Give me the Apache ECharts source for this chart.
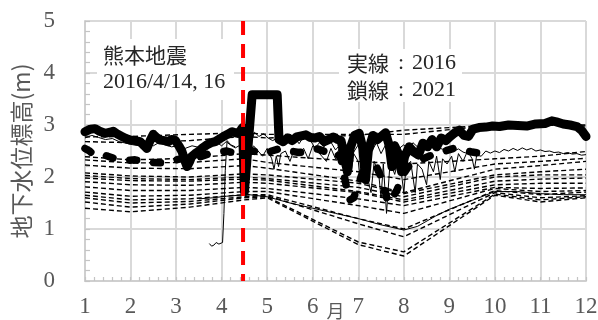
<!DOCTYPE html>
<html><head><meta charset="utf-8">
<script src="https://cdn.jsdelivr.net/npm/echarts/dist/echarts.min.js"></script>
<style>html,body{margin:0;padding:0;background:#fff}#chart{width:598px;height:320px}</style>
</head><body><div id="chart"></div>
<script>
// Groundwater level (m) by month; solid = 2016 daily records, dashed = 2021 monthly records
const monthTicks = [1, 2, 3, 4, 5, 6, 7, 8, 9, 10, 11, 12];
const quakeMonth = 4.47; // 2016/4/14 and 4/16

// main observation well, 2016 (thick solid)
const mainWell2016 = [[1.00,2.87],[1.12,2.92],[1.22,2.93],[1.32,2.88],[1.44,2.84],[1.55,2.86],[1.62,2.88],[1.72,2.82],[1.81,2.78],[1.90,2.74],[1.99,2.71],[2.10,2.70],[2.21,2.68],[2.30,2.60],[2.36,2.55],[2.43,2.70],[2.50,2.82],[2.57,2.76],[2.65,2.71],[2.75,2.70],[2.83,2.68],[2.90,2.72],[2.98,2.71],[3.06,2.60],[3.13,2.49],[3.20,2.30],[3.24,2.20],[3.30,2.30],[3.34,2.39],[3.42,2.45],[3.49,2.49],[3.58,2.56],[3.68,2.62],[3.77,2.66],[3.86,2.68],[3.95,2.73],[4.04,2.78],[4.13,2.82],[4.23,2.87],[4.30,2.85],[4.36,2.84],[4.42,2.90],[4.46,2.95],[4.50,1.72],[4.67,3.58],[5.22,3.58],[5.26,2.72],[5.35,2.68],[5.45,2.75],[5.55,2.70],[5.65,2.77],[5.75,2.79],[5.85,2.81],[5.95,2.76],[6.05,2.75],[6.15,2.78],[6.25,2.68],[6.35,2.72],[6.45,2.77],[6.55,2.72],[6.62,2.70],[6.70,2.40],[6.76,2.10],[6.82,2.55],[6.92,2.80],[7.02,2.84],[7.10,2.55],[7.16,1.95],[7.22,2.50],[7.32,2.80],[7.42,2.72],[7.50,2.78],[7.60,2.85],[7.68,2.60],[7.74,2.20],[7.80,2.60],[7.88,2.45],[7.95,2.10],[8.02,2.40],[8.12,2.58],[8.22,2.48],[8.32,2.42],[8.42,2.65],[8.52,2.58],[8.62,2.72],[8.72,2.58],[8.82,2.75],[8.92,2.70],[9.02,2.78],[9.12,2.85],[9.22,2.90],[9.32,2.80],[9.42,2.78],[9.52,2.92],[9.65,2.95],[9.80,2.96],[9.95,2.98],[10.10,2.97],[10.30,3.00],[10.50,2.99],[10.70,2.98],[10.90,3.02],[11.10,3.03],[11.25,3.08],[11.35,3.06],[11.50,3.02],[11.65,3.00],[11.80,2.97],[11.90,2.90],[12.00,2.78]];

// main observation well, 2021 (thick dashed)
const mainWell2021 = [[1.00,2.55],[1.10,2.50],[1.20,2.42],[1.35,2.44],[1.50,2.40],[1.70,2.34],[1.90,2.32],[2.10,2.33],[2.30,2.30],[2.50,2.28],[2.70,2.27],[2.90,2.31],[3.10,2.35],[3.30,2.40],[3.50,2.38],[3.70,2.44],[3.90,2.47],[4.10,2.50],[4.30,2.46],[4.45,2.48],[4.70,2.50],[4.90,2.44],[5.10,2.50],[5.30,2.55],[5.50,2.50],[5.70,2.47],[5.90,2.50],[6.10,2.54],[6.30,2.48],[6.50,2.50],[6.62,2.35],[6.72,1.90],[6.80,1.55],[6.90,1.60],[7.00,1.85],[7.10,2.10],[7.25,2.15],[7.40,2.20],[7.55,1.90],[7.65,1.50],[7.75,1.60],[7.85,1.75],[7.95,2.00],[8.10,2.20],[8.30,2.30],[8.50,2.38],[8.70,2.45],[8.90,2.50],[9.10,2.55],[9.30,2.52],[9.50,2.48],[9.70,2.45],[9.90,2.40]];

// shallow well next to the main one, 2016 (thin solid)
const upperWell2016 = [[1.00,2.75],[1.15,2.80],[1.30,2.76],[1.45,2.72],[1.60,2.74],[1.75,2.68],[1.90,2.65],[2.05,2.62],[2.20,2.60],[2.35,2.64],[2.50,2.60],[2.62,2.66],[2.75,2.62],[2.90,2.58],[3.05,2.60],[3.20,2.55],[3.35,2.60],[3.50,2.57],[3.62,2.63],[3.75,2.60],[3.90,2.66],[4.00,2.60],[4.10,2.68],[4.20,2.61],[4.30,2.56],[4.42,2.62],[4.52,2.45],[4.62,2.60],[4.72,2.86],[4.82,2.78],[4.92,2.83],[5.02,2.75],[5.12,2.70],[5.25,2.76],[5.40,2.62],[5.50,2.82],[5.60,2.77],[5.70,2.64],[5.82,2.80],[5.95,2.70],[6.05,2.56],[6.15,2.66],[6.25,2.58],[6.38,2.70],[6.50,2.52],[6.60,2.62],[6.70,2.40],[6.80,2.58],[6.90,2.48],[7.00,2.62],[7.10,2.40],[7.20,2.58],[7.30,2.50],[7.40,2.66],[7.50,2.45],[7.60,2.62],[7.70,2.52],[7.80,2.68],[7.90,2.55],[8.00,2.62],[8.10,2.50],[8.20,2.66],[8.30,2.58],[8.40,2.70],[8.50,2.60],[8.60,2.68],[8.70,2.58],[8.80,2.55],[8.90,2.52],[9.00,2.55],[9.10,2.50],[9.20,2.54],[9.30,2.48],[9.40,2.45],[9.50,2.50]];

// well with large summer fluctuations, 2016 (thin solid)
const spikyWell2016 = [[4.50,2.55],[4.60,2.45],[4.70,2.60],[4.80,2.50],[4.90,2.40],[5.00,2.55],[5.10,2.35],[5.15,2.15],[5.20,2.40],[5.25,2.20],[5.30,2.45],[5.40,2.50],[5.50,2.30],[5.60,2.55],[5.70,2.45],[5.80,2.55],[5.90,2.35],[6.00,2.60],[6.10,2.50],[6.20,2.40],[6.30,2.30],[6.40,2.55],[6.50,2.35],[6.60,2.60],[6.65,2.20],[6.70,2.50],[6.80,2.40],[6.85,2.10],[6.90,2.45],[7.00,2.30],[7.05,1.90],[7.10,2.35],[7.20,2.00],[7.28,1.70],[7.35,2.30],[7.45,2.05],[7.50,1.60],[7.55,2.25],[7.62,1.30],[7.70,2.30],[7.80,2.05],[7.90,2.40],[8.00,1.70],[8.05,2.20],[8.15,2.30],[8.25,1.70],[8.30,2.25],[8.40,2.15],[8.50,1.85],[8.55,2.30],[8.65,2.10],[8.72,2.40],[8.80,1.95],[8.85,2.35],[8.95,2.25],[9.05,2.40],[9.12,2.10],[9.20,2.45],[9.30,2.30],[9.40,2.50],[9.50,2.35],[9.55,2.15],[9.60,2.42],[9.70,2.40],[9.80,2.50],[9.90,2.46],[10.00,2.50],[10.10,2.47],[10.20,2.53],[10.30,2.50],[10.40,2.55],[10.50,2.51],[10.60,2.56],[10.70,2.52],[10.80,2.55],[10.90,2.50],[11.00,2.52],[11.10,2.49],[11.20,2.50],[11.30,2.47],[11.40,2.48],[11.50,2.45],[11.60,2.47],[11.70,2.44],[11.80,2.45],[11.90,2.42],[12.00,2.43]];

// well recovering after a dry spell, 2016 (thin solid)
const risingWell2016 = [[3.73,0.72],[3.78,0.67],[3.83,0.69],[3.88,0.74],[3.94,0.71],[3.98,0.70],[4.02,0.74],[4.05,1.30],[4.08,2.13],[4.12,2.70],[4.20,2.62],[4.30,2.58]];

// deep well, 2016 (thin solid)
const deepWell2016 = [[3.50,1.58],[3.80,1.60],[4.10,1.63],[4.40,1.65],[4.60,1.66],[5.00,1.62],[5.50,1.50],[6.00,1.40],[6.50,1.30],[7.00,1.20],[7.50,1.08],[8.00,0.98],[8.30,1.05],[8.70,1.25],[9.00,1.38],[9.50,1.55],[10.00,1.72],[10.50,1.72],[11.00,1.68],[11.50,1.66],[12.00,1.66]];

// 2021 monthly readings of the other wells (thin dashed)
const months2021 = [1, 2, 3.3, 4.5, 5, 7, 8, 10, 11, 12];
const levels2021 = [
  [2.77, 2.78, 2.82, 2.85, 2.82, 2.82, 2.82, 3.00, 3.02, 3.00],
  [2.68, 2.66, 2.70, 2.78, 2.75, 2.80, 2.90, 3.00, 3.00, 2.98],
  [2.39, 2.33, 2.36, 2.45, 2.42, 2.30, 2.25, 2.35, 2.40, 2.49],
  [2.33, 2.27, 2.28, 2.35, 2.28, 2.10, 1.95, 2.25, 2.30, 2.36],
  [2.23, 2.17, 2.16, 2.22, 2.17, 1.92, 1.70, 2.15, 2.22, 2.30],
  [2.08, 2.02, 2.00, 2.06, 2.04, 1.88, 1.68, 2.04, 2.10, 2.15],
  [2.03, 1.97, 1.95, 2.00, 1.97, 1.80, 1.62, 2.00, 2.04, 2.04],
  [1.98, 1.93, 1.92, 1.96, 1.94, 1.72, 1.56, 1.92, 1.96, 1.98],
  [1.91, 1.85, 1.84, 1.90, 1.88, 1.70, 1.52, 1.85, 1.88, 1.88],
  [1.81, 1.74, 1.74, 1.80, 1.78, 1.58, 1.45, 1.80, 1.78, 1.79],
  [1.71, 1.63, 1.65, 1.72, 1.72, 1.45, 1.30, 1.78, 1.72, 1.74],
  [1.65, 1.56, 1.58, 1.66, 1.66, 1.20, 1.00, 1.74, 1.66, 1.71],
  [1.60, 1.50, 1.53, 1.62, 1.64, 1.10, 0.85, 1.70, 1.60, 1.64],
  [1.52, 1.42, 1.48, 1.60, 1.62, 0.75, 0.56, 1.67, 1.56, 1.62],
  [1.40, 1.33, 1.42, 1.56, 1.60, 0.70, 0.48, 1.65, 1.52, 1.60]
];

const GREY = '#595959';
const GRID = '#d9d9d9';
const SERIF = '"Liberation Serif", "Times New Roman", serif';
const CJK = '"Noto Sans CJK JP", sans-serif';

const series = [];
levels2021.forEach((vals, i) => {
  series.push({
    name: 'w2021_' + i, type: 'line', symbol: 'none', z: 2,
    data: months2021.map((m, k) => [m, vals[k]]),
    lineStyle: { color: '#000', width: 1.4, type: [5, 3] }
  });
});
[upperWell2016, spikyWell2016, risingWell2016, deepWell2016].forEach((d, i) => {
  series.push({
    name: 'w2016_' + i, type: 'line', symbol: 'none', z: 3, data: d,
    lineStyle: { color: '#000', width: 1 }
  });
});
series.push({
  name: 'main2021', type: 'line', symbol: 'none', z: 4, data: mainWell2021,
  lineStyle: { color: '#000', width: 7.5, type: [7, 17], cap: 'round', join: 'round' }
});
series.push({
  name: 'main2016', type: 'line', symbol: 'none', z: 5, data: mainWell2016,
  lineStyle: { color: '#000', width: 9, cap: 'round', join: 'round' }
});
series.push({
  name: 'quake', type: 'line', symbol: 'none', z: 6,
  data: [[quakeMonth, 5], [quakeMonth, 0]],
  lineStyle: { color: '#ff0000', width: 4, type: [14, 9] }
});

function label(x, y, parts) {
  return parts.map(p => ({
    type: 'text', x: x + p.dx, y: y, z: 101,
    style: { text: p.t, font: p.f, fill: '#262626', verticalAlign: 'middle' }
  }));
}

const chart = echarts.init(document.getElementById('chart'), null, { renderer: 'canvas' });
chart.setOption({
  animation: false,
  backgroundColor: '#fff',
  grid: { left: 85, right: 12, top: 21, bottom: 39, containLabel: false, outerBoundsMode: 'none' },
  xAxis: {
    type: 'value', min: 1, max: 12, interval: 1,
    name: '月', nameLocation: 'middle', nameGap: 21, nameMoveOverlap: false,
    nameTextStyle: { fontFamily: CJK, fontSize: 18, color: GREY },
    axisLine: { show: true, lineStyle: { color: '#cfcfcf', width: 2 } },
    axisTick: { show: true, inside: true, length: 4, lineStyle: { color: '#c4c4c4', width: 1.2 } },
    minorTick: { show: true, splitNumber: 5, length: 4, lineStyle: { color: '#c4c4c4', width: 1.2 } },
    splitLine: { show: true, lineStyle: { color: GRID, width: 2 } },
    axisLabel: { margin: 14, fontFamily: SERIF, fontSize: 23, color: GREY,
      formatter: v => monthTicks.includes(v) ? String(v) : '' }
  },
  yAxis: {
    type: 'value', min: 0, max: 5, interval: 1,
    name: '地下水位標高(m)', nameLocation: 'middle', nameGap: 52, nameMoveOverlap: false,
    nameTextStyle: { fontFamily: CJK, fontSize: 23, color: GREY },
    axisLine: { show: true, lineStyle: { color: '#cfcfcf', width: 2 } },
    axisTick: { show: true, inside: true, length: 5, lineStyle: { color: '#c4c4c4', width: 1.2 } },
    minorTick: { show: true, splitNumber: 5, length: 5, lineStyle: { color: '#c4c4c4', width: 1.2 } },
    splitLine: { show: true, lineStyle: { color: GRID, width: 2 } },
    axisLabel: { margin: 30, fontFamily: SERIF, fontSize: 23, color: GREY }
  },
  graphic: [
    { type: 'rect', z: 100, shape: { x: 97, y: 39, width: 137, height: 61 }, style: { fill: '#fff' } },
    { type: 'rect', z: 100, shape: { x: 339, y: 49, width: 123, height: 53 }, style: { fill: '#fff' } },
    ...label(103, 55, [{ dx: 0, t: '熊本地震', f: '21px ' + CJK }]),
    ...label(103, 82, [{ dx: 0, t: '2016/4/14, 16', f: '22px ' + SERIF }]),
    ...label(347, 63, [{ dx: 0, t: '実線', f: '21px ' + CJK }, { dx: 51, t: ':', f: '22px ' + SERIF }, { dx: 65, t: '2016', f: '22px ' + SERIF }]),
    ...label(347, 90, [{ dx: 0, t: '鎖線', f: '21px ' + CJK }, { dx: 51, t: ':', f: '22px ' + SERIF }, { dx: 65, t: '2021', f: '22px ' + SERIF }])
  ],
  series: series
});
</script></body></html>
